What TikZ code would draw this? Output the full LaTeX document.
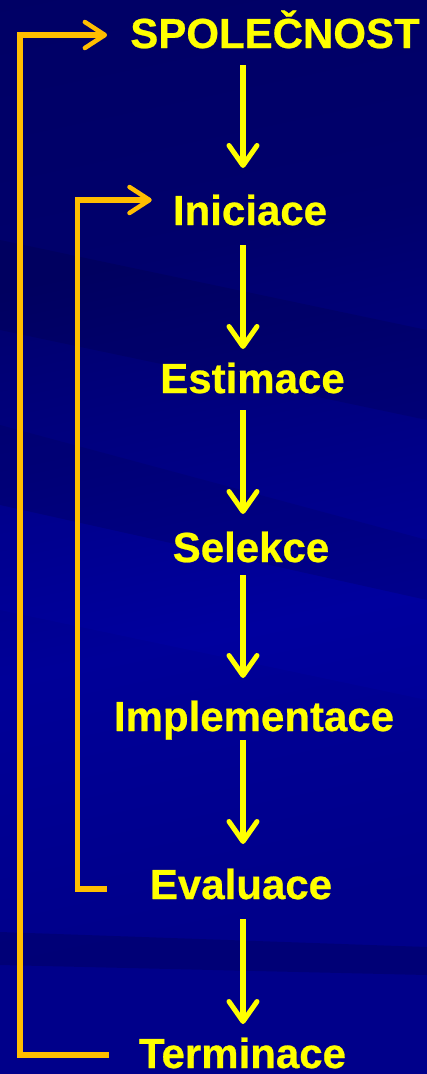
\documentclass[tikz,border=0pt]{standalone}
\usepackage{fontspec}
\setmainfont{Liberation Sans}[BoldFeatures={FakeBold=0.6}]
\usetikzlibrary{arrows.meta,calc}
\definecolor{navyA}{RGB}{0,0,92}
\definecolor{navyA2}{RGB}{0,0,108}
\definecolor{navyB}{RGB}{0,0,138}
\definecolor{navyC}{RGB}{0,0,152}
\definecolor{tyellow}{RGB}{255,255,0}
\definecolor{torange}{RGB}{255,190,0}
\pgfdeclareverticalshading{bgsh}{100bp}{color(0bp)=(navyB); color(30bp)=(navyB); color(45bp)=(navyC); color(65bp)=(navyA2); color(100bp)=(navyA)}
\begin{document}
\begin{tikzpicture}[x=1pt,y=-1pt,
  lbl/.style={font=\bfseries\fontsize{42}{42}\selectfont, text=tyellow, inner sep=0pt, anchor=base},
  flow/.style={draw=tyellow, line width=5.5pt, -{Straight Barb[length=20pt,width=28pt,line width=5pt,round]}},
  back/.style={draw=torange, line width=5.5pt, -{Straight Barb[length=20pt,width=26pt,line width=4.5pt,round]}}]
\useasboundingbox (0,0) rectangle (427,1074);
% background
\shade[shading=bgsh, shading angle=12] (0,0) rectangle (427,1074);
\fill[black, opacity=0.10] (0,240) -- (427,330) -- (427,420) -- (0,330) -- cycle;
\fill[black, opacity=0.08] (0,425) -- (427,540) -- (427,600) -- (0,505) -- cycle;
\fill[blue, opacity=0.06] (0,505) -- (427,600) -- (427,700) -- (0,610) -- cycle;
\fill[black, opacity=0.14] (0,932) -- (427,947) -- (427,975) -- (0,965) -- cycle;
% nodes
\node[lbl] (spol) at (275,48) {SPOLEČNOST};
\node[lbl] (ini) at (250,225) {Iniciace};
\node[lbl] (est) at (252.5,393) {Estimace};
\node[lbl] (sel) at (251,562) {Selekce};
\node[lbl] (imp) at (254,731) {Implementace};
\node[lbl] (evl) at (241,899) {Evaluace};
\node[lbl] (term) at (242.5,1068) {Terminace};
\coordinate (ax) at (243,0);
% main flow
\draw[flow] ($(ax|-spol.base)+(0,17)$) -- ($(ax|-ini.base)+(0,-57)$);
\draw[flow] ($(ax|-ini.base)+(0,20)$) -- ($(ax|-est.base)+(0,-44)$);
\draw[flow] ($(ax|-est.base)+(0,17)$) -- ($(ax|-sel.base)+(0,-48)$);
\draw[flow] ($(ax|-sel.base)+(0,13)$) -- ($(ax|-imp.base)+(0,-53)$);
\draw[flow] ($(ax|-imp.base)+(0,9)$) -- ($(ax|-evl.base)+(0,-55)$);
\draw[flow] ($(ax|-evl.base)+(0,20)$) -- ($(ax|-term.base)+(0,-44)$);
% feedback loops
\draw[back] ([xshift=-30pt,yshift=13pt]term.base west) -- ++(-89,0) |- ([xshift=-23pt,yshift=13pt]spol.base west);
\draw[back] ([xshift=-43pt,yshift=10pt]evl.base west) -- ++(-29,0) |- ([xshift=-21pt,yshift=25pt]ini.base west);
\end{tikzpicture}
\end{document}
